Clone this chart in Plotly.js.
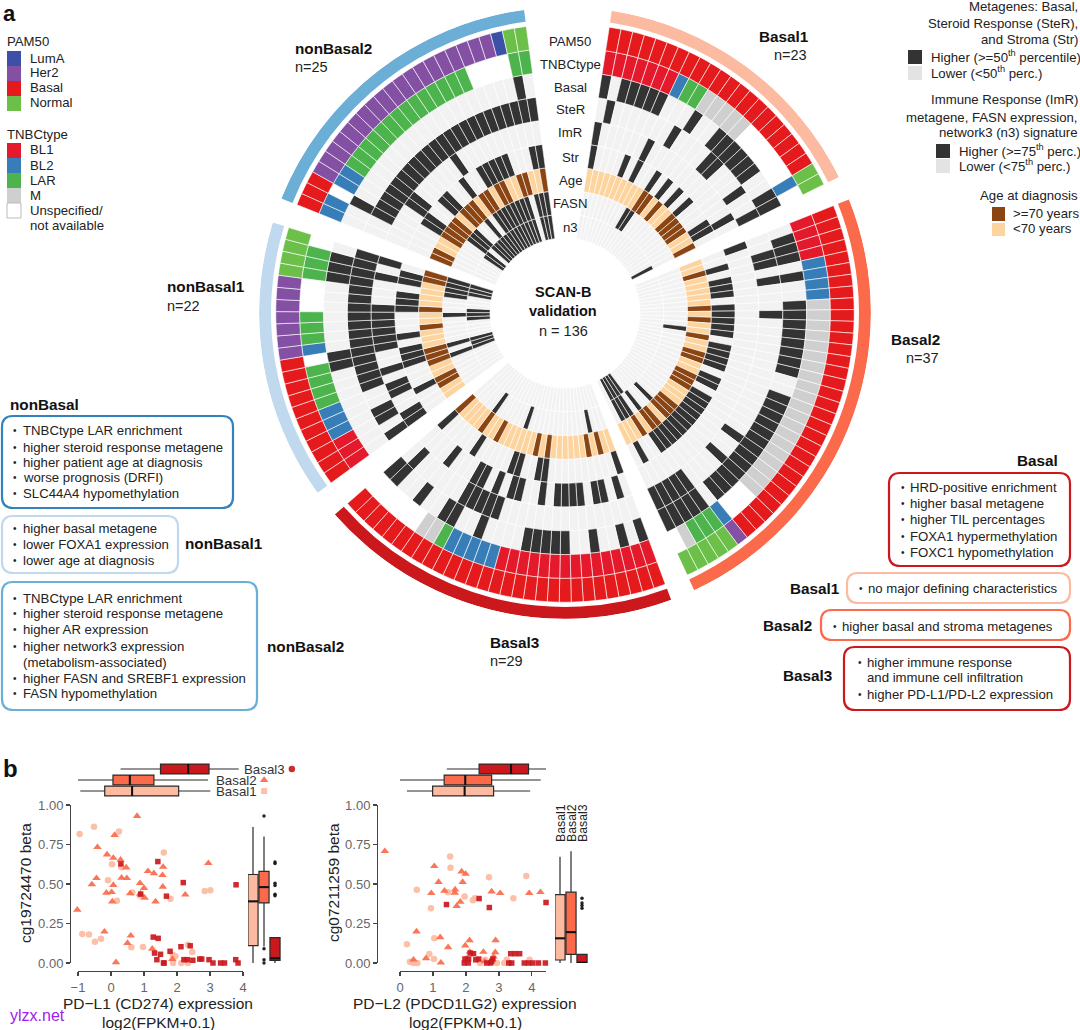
<!DOCTYPE html>
<html><head><meta charset="utf-8">
<script src="https://cdn.plot.ly/plotly-3.0.1.min.js"></script>
<style>html,body{margin:0;padding:0;background:#fff}#c{width:1080px;height:1030px}</style>
</head><body><div id="c"></div>
<script>
// ---------- circular heatmap data ----------
const groupNames=['Basal1','Basal2','Basal3','nonBasal1','nonBasal2'];
const groupN=[23,37,29,22,25];
const trackNames=['n3','FASN','Age','Str','ImR','SteR','Basal','TNBCtype','PAM50'];
// PAM50 codes: A LumA, H Her2, B Basal, N Normal; TNBCtype codes: 1 BL1, 2 BL2, L LAR, M M, _ unspecified
const pam50=[
 'BBBBBBBBBBBBBBBBBBBBBNN',
 'BBBBBBBBBBBBBBBBBBBBBBBBBBBBBBBHNNNNN',
 'BBBBBBBBBBBBBBBBBBBBBBBBBBBBB',
 'BBBBBBBBBBBHHHHHHHNNNN',
 'BBBHHHHHHHHHHHHHHHHHHHANN'];
const tnbc=[
 '1111111 2LLMMMMM______2_',
 '11112222MMMMMMMMMMMMMMMMMMMM___2LLLM_',
 '111111111111111 22222LMM______',
 '111222LLLL_2LLL___LLL_',
 '22_22LLLLLLLLLLLLLL____LL'].map(s=>s.replace(/ /g,''));
// sample indices in the "high" state, per group
const highBasal=[[0,2,3,4,5,6,10,13,14,15,16,17,18,21,22],
 [1,2,3,5,8,9,10,11,12,13,14,15,18,19,20,21,22,23,24,25,26,27,28,29,30,32,33,34,35,36],
 [0,2,5,8,9,10,11,12,17,20,21,24,27,28],
 [9,10,18,19,20],
 [2,23]];
const highSteR=[[1,9,14,15,19,22],
 [2,3,5,9,24,27,32,33,34,35,36],
 [16,17,18,19,20,27],
 [0,2,3,6,7,8,9,10,11,12,13,14,15,16,17,18,19,20,21],
 [2,3,4,5,6,7,8,9,10,11,12,13,14,15,16,17,18,19,20,21,22,23,24]];
const highImR=[[0,7,21],[0],
 [1,3,4,6,7,8,9,11,14,15,17,19,20,24],
 [0,1,4,5,7,10,11,12,13,14,15,19,21],
 [5,6,13]];
const highStr=[[0,5,7,10,12,14,16,20,21],
 [2,4,5,6,8,9,10,11,12,14,15,16,17,19,20,22,23,24,25,26,27,28,29,30,31,32,35],
 [0,11,12,15,16,22,28],
 [3,7,8,9,11,15,16,17,19,20],
 [4,5,8,9,12,15,16,17,18,19,23,24]];
const oldAge=[[10,11,13,16,17,18,19,22],
 [2,8,10,13,16,17,20,21,22,26,27,28,30,31,33],
 [2,4,11,13,20,23,28],
 [2,3,6,7,8,12,15,20,21],
 [0,1,4,5,6,7,9,10,11,13,14,16,17,20,21,24]];
const highFASN=[[9,10],[12,28,31,33,34,35],[3,16,23],[6,8,14,18,19,20,21],
 [6,7,8,11,13,14,15,16,17,18,19,20,22,23,24]];
const highN3=[[22],[32,33,34,35],[],[6,7,8,13,14,15,19,20,21],
 [5,6,8,9,10,11,12,13,14,15,16,17,18,19,20,22,23,24]];

// ---------- panel b data ----------
const l1_b1x=[-.95,-.515,.24,.03,1.6,-.09,.646,.18,1.8,2.84,3.01,-.87,-.667,-.485,-.30,.616,.97,1.87,1.95,2.33,2.46,2.13,2.33,1.88,.31,.87];
const l1_b1y=[.817,.863,.832,.625,.70,.524,.446,.394,.406,.455,.461,.183,.181,.135,.154,.099,.101,.053,.042,.116,.069,0,0,0,.606,.427];
const l1_b2x=[.79,.11,-.41,-.12,.07,.29,.46,1.12,1.30,1.58,1.56,2.95,-.44,-.58,.32,.48,.07,.88,1.0,1.57,-.14,.02,.58,.04,1.02,1.35,2.25,-1.02,-.2,.6,.5,1.25,1.86,.15,.89];
const l1_b2y=[.93,.81,.733,.686,.665,.653,.604,.581,.568,.608,.556,.632,.537,.497,.539,.537,.493,.505,.474,.482,.444,.448,.44,.389,.413,.389,.432,.337,.198,.173,.126,.09,.025,.004,.438];
const l1_b3x=[.30,1.42,2.19,3.79,.9,1.68,1.28,1.43,1.32,1.5,1.39,1.59,1.79,2.12,2.4,2.21,2.31,2.48,2.69,2.75,2.97,3.09,3.32,3.44,3.78,3.85,1.61];
const l1_b3y=[.627,.642,.509,.495,.436,.423,.164,.156,.063,.055,.021,0,.074,.103,.109,.021,.021,.017,.025,.025,.021,0,0,0,.021,0,0];
const l2_b1x=[1.52,1.53,2.7,3.83,.51,1.45,1.96,2.21,2.27,.94,3.44,.21,1.04,.89,1.03,.41,.53,.3,2.43,2.94,3.24,3.16,3.93,2.03,2.58];
const l2_b1y=[.674,.603,.543,.55,.463,.448,.421,.397,.41,.347,.41,.118,.156,.057,.025,0,0,.008,0,0,.02,0,.02,.03,.02];
const l2_b2x=[-.46,1.04,1.87,1.99,1.17,1.9,1.35,1.67,1.66,.95,2.78,3.04,3.92,4.26,1.83,1.72,.5,1.22,1.46,2.11,1.98,2.9,.41,.79,1.24,2.53,2.89,2.12,2.84,2.57];
const l2_b2y=[.708,.613,.579,.564,.512,.512,.457,.465,.444,.442,.452,.442,.442,.448,.387,.36,.199,.163,.099,.144,.11,.144,.021,.03,.002,.07,.068,.07,.04,.01];
const l2_b3x=[1.41,2.4,2.71,4.43,2.13,2.23,2.39,1.97,2.08,1.95,2.07,2.63,2.75,2.82,2.78,3.3,3.39,3.36,3.49,3.63,3.77,3.9,4.03,4.2,4.41,2.3];
const l2_b3y=[.37,.408,.351,.383,.063,.059,.025,.025,.025,0,0,0,0,.025,.01,0,0,.059,.059,.059,0,0,0,0,0,.02];
// box summaries, order Basal1, Basal2, Basal3: [lowerfence,q1,median,q3,upperfence]
const l1_exprBox=[[-.93,-.19,.64,2.05,3.01],[-1.0,.06,.57,1.30,2.94],[.29,1.5,2.34,2.97,3.87]];
const l2_exprBox=[[.21,.99,1.96,2.84,3.95],[-.46,1.34,1.98,2.78,4.27],[1.42,2.4,3.37,3.9,4.43]];
const l1_betaBox=[[0,.11,.39,.56,.86],[.105,.38,.48,.58,.80],[0,.017,.03,.16,.165]];
const l2_betaBox=[[0,.019,.156,.433,.672],[0,.055,.195,.448,.708],[0,0,0,.055,.055]];
const l1_out={x:[1,1,1,1,2,2,2,2,2,2],y:[.93,.09,.02,0,.64,.63,.505,.49,.435,.425]};
const l2_out={x:[2,2,2,2],y:[.41,.38,.364,.347]};

// ---------- colours ----------
const groupCol=['#FCBBA1','#FB6A4A','#CB181D','#C0D9EE','#6BAED6'];
const pamCol={A:'#3B50A6',H:'#8350A3',B:'#E41A1C',N:'#6CC04A'};
const tnbcCol={'1':'#E41A2C','2':'#377EB8',L:'#4DB34D',M:'#CFCFCF'};
const DARK='#333333',LIGHT='#F2F2F2',BROWN='#8B4513',PEACH='#FDD49E';

// ---------- geometry helpers ----------
const W=1080,H=1030;
const fx=p=>p/W, fy=p=>1-p/H;
const cx=565,cy=313,Rout=306,R0=75,ringW=23.8;
const groupStart=[8.8,68.2,159.7,234,292], groupSpan=[54.8,86.8,69.1,53.2,60.3];

// ---------- build polar cells ----------
const th=[],wd=[],bs=[],rr=[],cl=[];
function cell(t,w,b,r,c){th.push(t);wd.push(w);bs.push(b);rr.push(r);cl.push(c);}
groupNames.forEach((g,gi)=>{
  const n=groupN[gi],w=groupSpan[gi]/n,s=groupStart[gi];
  const tracks=[[highN3,DARK,LIGHT],[highFASN,DARK,LIGHT],[oldAge,BROWN,PEACH],[highStr,DARK,LIGHT],[highImR,DARK,LIGHT],[highSteR,DARK,LIGHT],[highBasal,DARK,LIGHT]];
  for(let i=0;i<n;i++){
    const t=s+(i+.5)*w;
    tracks.forEach((tr,ti)=>cell(t,w,ti,1,tr[0][gi].includes(i)?tr[1]:tr[2]));
    const tc=tnbc[gi][i]; if(tc&&tnbcCol[tc]) cell(t,w,7,1,tnbcCol[tc]);
    cell(t,w,8,1,pamCol[pam50[gi][i]]);
  }
});
const data=[{type:'barpolar',theta:th,width:wd,base:bs,r:rr,marker:{color:cl,line:{color:'#fff',width:.6}},hoverinfo:'skip',subplot:'polar'}];
groupNames.forEach((g,gi)=>data.push({type:'barpolar',theta:[groupStart[gi]+groupSpan[gi]/2],width:[groupSpan[gi]],base:[9.2],r:[.5],marker:{color:groupCol[gi],line:{width:0}},hoverinfo:'skip',subplot:'polar'}));

// ---------- panel b traces ----------
function pts(x,y,col,sym,size,xa,ya){return {type:'scatter',mode:'markers',x,y,xaxis:xa,yaxis:ya,cliponaxis:false,marker:{color:col,symbol:sym,size,opacity:.92,line:{width:0}},hoverinfo:'skip',showlegend:false};}
function medLine(x,y,xa,ya){return {type:'scatter',mode:'lines',x,y,xaxis:xa,yaxis:ya,cliponaxis:false,line:{color:'#111',width:2},hoverinfo:'skip',showlegend:false};}
function boxH(stats,xa,ya){return stats.flatMap((s,i)=>[{type:'box',orientation:'h',y:[i],lowerfence:[s[0]],q1:[s[1]],median:[s[2]],q3:[s[3]],upperfence:[s[4]],width:.9,whiskerwidth:0,boxpoints:false,fillcolor:groupCol[i],line:{color:'#2b2b2b',width:1.2},xaxis:xa,yaxis:ya,hoverinfo:'skip',showlegend:false},medLine([s[2],s[2]],[i-.45,i+.45],xa,ya)]);}
function boxV(stats,xa,ya){return stats.flatMap((s,i)=>[{type:'box',orientation:'v',x:[i],lowerfence:[s[0]],q1:[s[1]],median:[s[2]],q3:[s[3]],upperfence:[s[4]],width:.92,whiskerwidth:0,boxpoints:false,fillcolor:groupCol[i],line:{color:'#2b2b2b',width:1.2},xaxis:xa,yaxis:ya,hoverinfo:'skip',showlegend:false},medLine([i-.46,i+.46],[s[2],s[2]],xa,ya)]);}
data.push(
 {type:'scatter',mode:'markers',x:[0],y:[0],xaxis:'x',yaxis:'y',marker:{size:1,opacity:0},hoverinfo:'skip',showlegend:false},
 {type:'scatter',mode:'markers',x:[0],y:[0],xaxis:'x5',yaxis:'y5',marker:{size:1,opacity:0},hoverinfo:'skip',showlegend:false},
 pts(l1_b1x,l1_b1y,groupCol[0],'circle',6.5,'x8','y'),
 pts(l1_b2x,l1_b2y,groupCol[1],'triangle-up',7.5,'x8','y'),
 pts(l1_b3x,l1_b3y,groupCol[2],'square',5.5,'x8','y'),
 pts(l2_b1x,l2_b1y,groupCol[0],'circle',6.5,'x9','y5'),
 pts(l2_b2x,l2_b2y,groupCol[1],'triangle-up',7.5,'x9','y5'),
 pts(l2_b3x,l2_b3y,groupCol[2],'square',5.5,'x9','y5'),
 ...boxH(l1_exprBox,'x3','y3'),...boxV(l1_betaBox,'x4','y4'),
 ...boxH(l2_exprBox,'x6','y6'),...boxV(l2_betaBox,'x7','y7'),
 pts(l1_out.x,l1_out.y,'#111','circle',3.5,'x4','y4'),
 pts(l2_out.x,l2_out.y,'#111','circle',3.5,'x7','y7'),
 pts([5.48],[2],groupCol[2],'circle',6.5,'x3','y3'),
 pts([4.64],[1],groupCol[1],'triangle-up',7.5,'x3','y3'),
 pts([4.64],[0],groupCol[0],'square',6,'x3','y3')
);

// ---------- annotations ----------
const FONT='"Liberation Sans",Arial,sans-serif';
const ann=[],shp=[];
function T(x,y,text,o={}){ann.push({xref:'paper',yref:'paper',x:fx(x),y:fy(y),text:o.bold?'<b>'+text+'</b>':text,showarrow:false,xanchor:o.a||'left',yanchor:'middle',textangle:o.rot||0,font:{family:FONT,size:o.size||13.2,color:o.color||'#222'},borderpad:0,borderwidth:0});}
function S(x0,y0,x1,y1,c,lc){shp.push({type:'rect',xref:'paper',yref:'paper',x0:fx(x0),y0:fy(y0),x1:fx(x1),y1:fy(y1),fillcolor:c,line:lc?{color:lc,width:1}:{width:0}});}
function RR(x0,y0,x1,y1,c,r=11){
 const p=(x,y)=>fx(x)+','+fy(y);
 const d='M'+p(x0+r,y0)+' L'+p(x1-r,y0)+' Q'+p(x1,y0)+' '+p(x1,y0+r)+' L'+p(x1,y1-r)+' Q'+p(x1,y1)+' '+p(x1-r,y1)+' L'+p(x0+r,y1)+' Q'+p(x0,y1)+' '+p(x0,y1-r)+' L'+p(x0,y0+r)+' Q'+p(x0,y0)+' '+p(x0+r,y0)+' Z';
 shp.push({type:'path',xref:'paper',yref:'paper',path:d,line:{color:c,width:2.2},fillcolor:'rgba(0,0,0,0)'});
}
function B(bx,tx,y,text){ T(bx,y,'•',{size:10,a:'center'}); T(tx,y,text); }
const H1={bold:1,size:15.3,color:'#111'};

T(3,13,'a',{bold:1,size:22,color:'#111'}); T(3,768,'b',{bold:1,size:24,color:'#111'});
// ring labels
[['PAM50',41],['TNBCtype',64],['Basal',87],['SteR',110],['ImR',133],['Str',157],['Age',180],['FASN',204],['n3',227]].forEach(l=>T(570,l[1],l[0],{a:'center',size:13.2}));
// centre
T(563,292,'SCAN-B',{bold:1,a:'center',size:14.5,color:'#111'});T(563,311,'validation',{bold:1,a:'center',size:14.5,color:'#111'});T(563,331,'n = 136',{a:'center',size:14.5});
// group labels
T(759,36,'Basal1',H1);T(774,55,'n=23',{size:14.5});
T(295,48,'nonBasal2',H1);T(295,67,'n=25',{size:14.5});
T(891,339,'Basal2',H1);T(906,358,'n=37',{size:14.5});
T(490,642,'Basal3',H1);T(490,661,'n=29',{size:14.5});
T(167,287,'nonBasal1',H1);T(167,306,'n=22',{size:14.5});
// left legend
T(7,41,'PAM50');
[['LumA',pamCol.A],['Her2',pamCol.H],['Basal',pamCol.B],['Normal',pamCol.N]].forEach((l,i)=>{S(7,51+i*15,21,66+i*15,l[1]);T(30,58+i*15,l[0]);});
T(7,134,'TNBCtype');
[['BL1',tnbcCol['1']],['BL2',tnbcCol['2']],['LAR',tnbcCol.L],['M',tnbcCol.M]].forEach((l,i)=>{S(7,143+i*15,21,158+i*15,l[1]);T(30,150+i*15,l[0]);});
S(7,203,21,218,'#fff','#bbb');T(30,211,'Unspecified/');T(30,226,'not available');
// right legend
T(1078,7,'Metagenes: Basal,',{a:'right'});T(1078,23,'Steroid Response (SteR),',{a:'right'});T(1078,39,'and Stroma (Str)',{a:'right'});
S(908,50,922,64,DARK);S(908,66,922,80,'#E3E3E3');T(931,57,'Higher (>=50<sup>th</sup> percentile)');T(931,72,'Lower (<50<sup>th</sup> perc.)');
T(1078,100,'Immune Response (ImR)',{a:'right'});T(1078,117,'metagene, FASN expression,',{a:'right'});T(1078,133,'network3 (n3) signature',{a:'right'});
S(936,144,950,158,DARK);S(936,159,950,173,'#E3E3E3');T(959,151,'Higher (>=75<sup>th</sup> perc.)');T(959,166,'Lower (<75<sup>th</sup> perc.)');
T(1078,195,'Age at diagnosis',{a:'right'});
S(992,207,1005,221,BROWN);S(992,223,1005,236,PEACH);T(1013,214,'>=70 years');T(1013,229,'<70 years');
// left boxes
T(10,404,'nonBasal',H1);RR(2,416,233,508,'#3182BD');
[['TNBCtype LAR enrichment',430],['higher steroid response metagene',447],['higher patient age at diagnosis',463],['worse prognosis (DRFI)',478],['SLC44A4 hypomethylation',494]].forEach(l=>B(15,23,l[1],l[0]));
RR(2,516,178,573,'#C0D9EE');
[['higher basal metagene',528],['lower FOXA1 expression',544],['lower age at diagnosis',560]].forEach(l=>B(15,23,l[1],l[0]));
T(185,543,'nonBasal1',H1);
RR(2,582,257,710,'#6BAED6');
[['TNBCtype LAR enrichment',598],['higher steroid response metagene',613],['higher AR expression',629],['higher network3 expression',646],['higher FASN and SREBF1 expression',678],['FASN hypomethylation',693]].forEach(l=>B(15,23,l[1],l[0]));
T(23,662,'(metabolism-associated)');
T(267,646,'nonBasal2',H1);
// right boxes
T(1037,460,'Basal',{...H1,a:'center'});RR(889,473,1070,566,'#CB181D');
[['HRD-positive enrichment',487],['higher basal metagene',503],['higher TIL percentages',519],['FOXA1 hypermethylation',536],['FOXC1 hypomethylation',552]].forEach(l=>B(903,910,l[1],l[0]));
T(790,588,'Basal1',H1);RR(847,573,1070,603,'#FCBBA1');B(861,868,588,'no major defining characteristics');
T(763,625,'Basal2',H1);RR(821,610,1070,640,'#FB6A4A');B(835,842,626,'higher basal and stroma metagenes');
T(783,675,'Basal3',H1);RR(844,647,1070,710,'#CB181D');
B(860,867,662,'higher immune response');T(867,677,'and immune cell infiltration');B(860,867,694,'higher PD-L1/PD-L2 expression');
// panel b labels
T(244,769,'Basal3',{size:13.3,color:'#333'});T(216,780,'Basal2',{size:13.3,color:'#333'});T(216,791.5,'Basal1',{size:13.3,color:'#333'});
T(561,823,'Basal1',{size:12.3,rot:-90,a:'center'});T(572,823,'Basal2',{size:12.3,rot:-90,a:'center'});T(583,823,'Basal3',{size:12.3,rot:-90,a:'center'});
const TT={size:15.5,a:'center'};
T(158,1003,'PD\u2212L1 (CD274) expression',TT);T(158,1022,'log2(FPKM+0.1)',TT);
T(465,1003,'PD\u2212L2 (PDCD1LG2) expression',TT);T(465,1022,'log2(FPKM+0.1)',TT);
T(25,883,'cg19724470 beta',{...TT,rot:-90});T(333,883,'cg07211259 beta',{...TT,rot:-90});
T(10,1015,'ylzx.net',{size:16,color:'#A020F0'});

// ---------- axes ----------
const hidden={visible:false,showgrid:false,zeroline:false,fixedrange:true};
const dx=(a,b)=>[fx(a),fx(b)], dy=(top,bot)=>[fy(bot),fy(top)];
const tick={size:13,color:'#666',family:FONT};
function mainX(dom,range,yp,vals){return {domain:dom,range,anchor:'free',position:yp,showgrid:false,zeroline:false,showline:true,linecolor:'#444',linewidth:1.4,ticks:'outside',ticklen:4,tickcolor:'#444',tickwidth:1.3,tickfont:tick,tickvals:vals};}
function mainY(dom,xp){return {domain:dom,range:[0,1],anchor:'free',position:xp,showgrid:false,zeroline:false,showline:true,linecolor:'#444',linewidth:1.4,ticks:'outside',ticklen:4,tickcolor:'#444',tickwidth:1.3,tickfont:tick,tickvals:[0,.25,.5,.75,1],ticktext:['0.00','0.25','0.50','0.75','1.00']};}
const yDom=dy(805,963);
const layout={width:W,height:H,margin:{l:0,r:0,t:0,b:0},autosize:false,paper_bgcolor:'#fff',plot_bgcolor:'rgba(0,0,0,0)',showlegend:false,
 polar:{domain:{x:dx(cx-Rout,cx+Rout),y:dy(cy-Rout,cy+Rout)},bgcolor:'rgba(0,0,0,0)',
   radialaxis:{visible:false,range:[-R0/ringW,(Rout-R0)/ringW]},
   angularaxis:{visible:false,direction:'clockwise',rotation:90,thetaunit:'degrees'}},
 xaxis:mainX(dx(78,243),[-1,4],fy(970.5),[-1,0,1,2,3,4]),
 yaxis:mainY(yDom,fx(70)),
 xaxis5:mainX(dx(400,546),[0,4.43],fy(970.5),[0,1,2,3,4]),
 yaxis5:mainY(yDom,fx(377)),
 xaxis8:{...hidden,domain:dx(60,250),range:[-1.545,4.212],anchor:'y'},
 xaxis9:{...hidden,domain:dx(370,560),range:[-.91,4.854],anchor:'y5'},
 xaxis3:{...hidden,domain:dx(78,300),range:[-1,5.727],anchor:'y3'},
 yaxis3:{...hidden,domain:dy(763,797),range:[-.545,2.545],anchor:'x3'},
 xaxis4:{...hidden,domain:dx(248,281),range:[-.4545,2.545],anchor:'y4'},
 yaxis4:{...hidden,domain:yDom,range:[0,1],anchor:'x4'},
 xaxis6:{...hidden,domain:dx(400,546),range:[0,4.43],anchor:'y6'},
 yaxis6:{...hidden,domain:dy(763,797),range:[-.545,2.545],anchor:'x6'},
 xaxis7:{...hidden,domain:dx(555,588),range:[-.4545,2.545],anchor:'y7'},
 yaxis7:{...hidden,domain:yDom,range:[0,1],anchor:'x7'},
 annotations:ann,shapes:shp,font:{family:FONT}};
Plotly.newPlot('c',data,layout,{displayModeBar:false,staticPlot:true});
</script></body></html>
